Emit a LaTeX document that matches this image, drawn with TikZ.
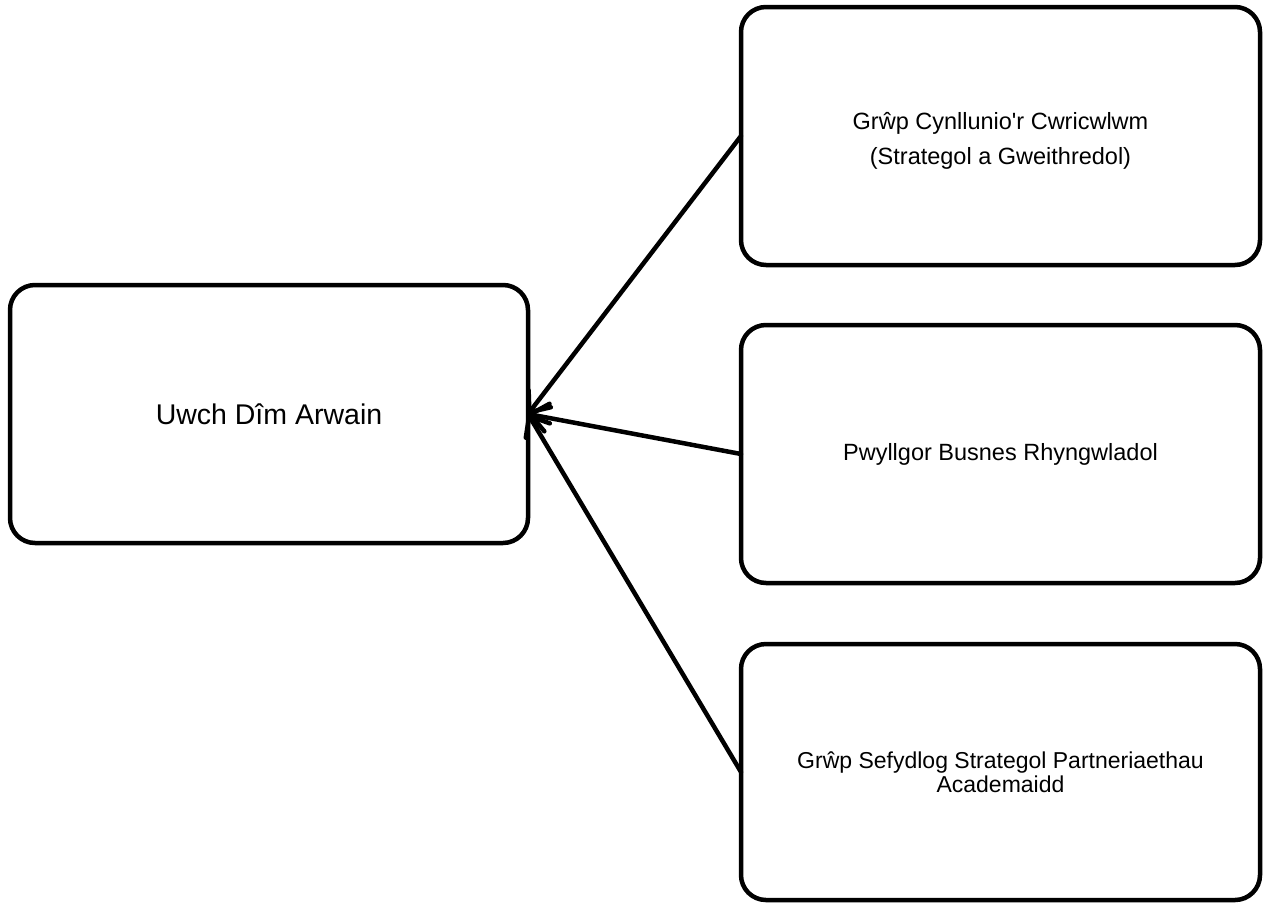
\documentclass[tikz,border=0pt]{standalone}
\usepackage{fontspec}
\setmainfont{Liberation Sans}
\usetikzlibrary{arrows.meta}
\tikzset{
  box/.style={draw=black, line width=4.5pt, rounded corners=25pt, rectangle, outer sep=0pt, inner sep=0pt, align=center, fill=white},
  conn/.style={draw=black, line width=4.5pt, line cap=round, -{Straight Barb[length=17pt,width=28pt,line cap=round,line join=round]}},
}
\begin{document}
\begin{tikzpicture}[x=1pt,y=-1pt]
\useasboundingbox (0,0) rectangle (1266,903);
\node[box, minimum width=518pt, minimum height=258pt, font=\fontsize{28.5}{34}\selectfont] (l) at (269,414) {Uwch Dîm Arwain};
\node[box, minimum width=519pt, minimum height=258pt, font=\fontsize{23.5}{35}\selectfont] (r1) at (1000.5,136) {\raisebox{-4pt}[\height][\depth]{\begin{tabular}{@{}c@{}}Grŵp Cynllunio\textquotesingle r Cwricwlwm\\(Strategol a Gweithredol)\end{tabular}}};
\node[box, minimum width=519pt, minimum height=258pt, font=\fontsize{23.5}{28}\selectfont] (r2) at (1000.5,454) {Pwyllgor Busnes Rhyngwladol};
\node[box, minimum width=519pt, minimum height=256pt, font=\fontsize{23}{24}\selectfont] (r3) at (1000.5,772) {Grŵp Sefydlog Strategol Partneriaethau\\Academaidd};
\draw[conn] (r1.west) -- (l.east);
\draw[conn] (r2.west) -- (l.east);
\draw[conn] (r3.west) -- (l.east);
\end{tikzpicture}
\end{document}
